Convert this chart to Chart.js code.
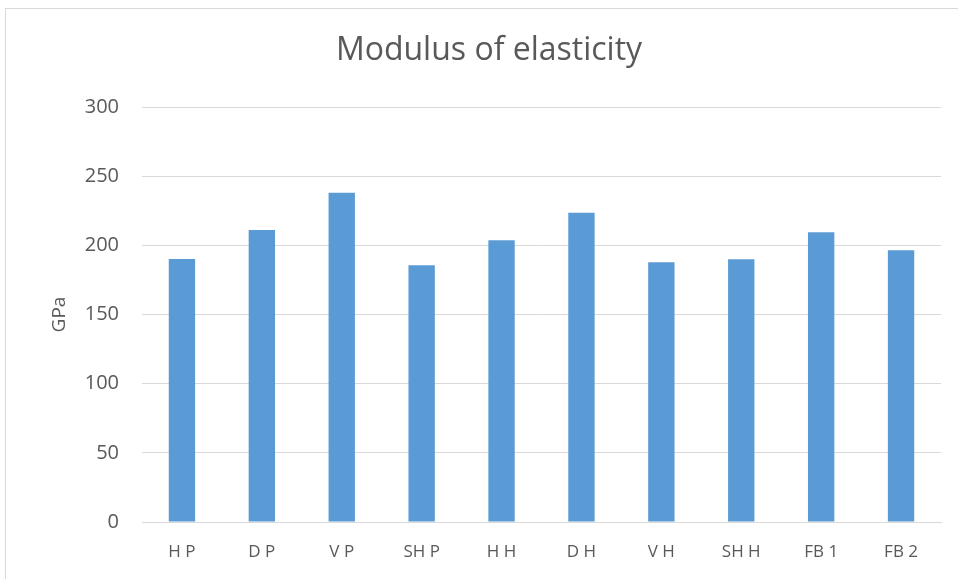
<!DOCTYPE html>
<html>
<head>
<meta charset="utf-8">
<script src="https://cdn.jsdelivr.net/npm/chart.js@4/dist/chart.umd.min.js"></script>
<style>
  html, body { margin: 0; padding: 0; background: #fff; }
  #wrap { position: relative; width: 958px; height: 579px; overflow: hidden; }
  #frame { position: absolute; left: 5px; top: 8px; width: 1000px; height: 1000px;
           border-left: 1px solid #d9d9d9; border-top: 1px solid #d9d9d9; box-sizing: border-box; }
  canvas { position: absolute; left: 0; top: 0; }
</style>
</head>
<body>
<div id="wrap">
  <div id="frame"></div>
  <canvas id="c" width="958" height="579"></canvas>
</div>
<script>
// Specimen groups and their measured modulus of elasticity (GPa)
const categories = ['H P', 'D P', 'V P', 'SH P', 'H H', 'D H', 'V H', 'SH H', 'FB 1', 'FB 2'];
const modulusGPa = [190.2, 211.1, 238.1, 185.6, 203.7, 223.6, 187.8, 190.0, 209.5, 196.5];
const yTicks = [0, 50, 100, 150, 200, 250, 300];

const textColor = '#595959';
const gridColor = '#d9d9d9';
const fontFamily = '"Open Sans", Lato, sans-serif';

// left padding offsets the title centre; the y axis fills the rest up to the plot edge
const padLeft = 37;
const plotLeft = 142;

new Chart(document.getElementById('c'), {
  type: 'bar',
  data: {
    labels: categories,
    datasets: [{
      data: modulusGPa,
      backgroundColor: '#5b9bd5',
      borderWidth: 0,
      barPercentage: 0.33,
      categoryPercentage: 1
    }]
  },
  options: {
    responsive: false,
    animation: false,
    layout: { padding: { left: padLeft, right: 17, top: 32, bottom: 0 } },
    plugins: {
      legend: { display: false },
      tooltip: { enabled: false },
      title: {
        display: true,
        text: 'Modulus of elasticity',
        color: textColor,
        font: { family: fontFamily, size: 32, weight: 'normal', lineHeight: 1.2 },
        padding: { top: 0, bottom: 36.6 }
      }
    },
    scales: {
      x: {
        grid: { display: false, drawTicks: false },
        border: { display: true, color: gridColor, width: 1 },
        ticks: { color: textColor, font: { family: fontFamily, size: 17 }, padding: 20, maxRotation: 0 },
        afterFit(scale) { scale.height = 57; }
      },
      y: {
        min: 0,
        max: 300,
        afterBuildTicks(scale) { scale.ticks = yTicks.map(v => ({ value: v })); },
        grid: { color: gridColor, lineWidth: 1, drawTicks: false },
        border: { display: false },
        ticks: { color: textColor, font: { family: fontFamily, size: 20 }, padding: 23 },
        title: {
          display: true,
          text: 'GPa',
          color: textColor,
          font: { family: fontFamily, size: 19, lineHeight: 1.2 },
          padding: { top: 11.6, bottom: 0 }
        },
        afterFit(scale) { scale.width = plotLeft - padLeft; }
      }
    }
  }
});
</script>
</body>
</html>
